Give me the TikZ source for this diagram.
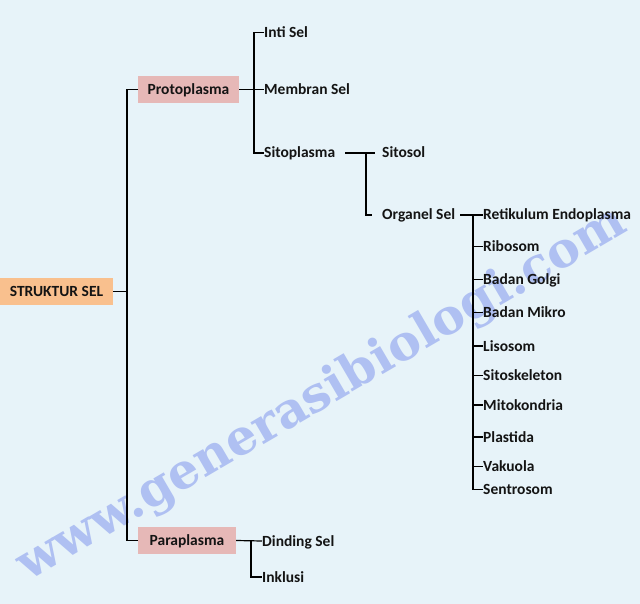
\documentclass[tikz,border=0pt]{standalone}
\usepackage{fontspec}
\setmainfont{Carlito}
\newfontfamily\wmfont{DejaVu Serif}
\definecolor{bg}{HTML}{E7F3F9}
\definecolor{wm}{HTML}{AFC0F2}
\definecolor{rootfill}{HTML}{F9C08E}
\definecolor{subfill}{HTML}{E6B8B7}
\begin{document}
\begin{tikzpicture}[x=1pt,y=-1pt,
  lbl/.style={anchor=west, inner sep=0pt, text height=10pt, text depth=0pt, font=\fontsize{15.5}{18}\selectfont\bfseries, text=black!92},
  box/.style={fill=#1, draw=none, minimum height=27pt, inner sep=0pt, text height=10pt, text depth=0pt, font=\fontsize{15.5}{18}\selectfont\bfseries, text=black!92},
  conn/.style={draw=black, line width=1.2pt}]
\fill[bg] (0,0) rectangle (640,604);
\useasboundingbox (0,0) rectangle (640,604);
% watermark
\node[rotate=30.3, text=wm, inner sep=0pt, font=\wmfont\bfseries\fontsize{49}{54}\selectfont] (wmark) at (322,395) {www.generasibiologi.com};
% boxes
\node[box=rootfill, minimum width=113pt] (root) at (56.5,291.5) {STRUKTUR SEL};
\node[box=subfill, minimum width=101pt] (proto) at (188.5,89.5) {Protoplasma};
\node[box=subfill, minimum width=98pt] (para) at (187,540.5) {Paraplasma};
% labels
\node[lbl] (inti) at (264,32.5) {Inti Sel};
\node[lbl] (membran) at (264,89.5) {Membran Sel};
\node[lbl] (sito) at (264,153) {Sitoplasma};
\node[lbl] (sitosol) at (382,153) {Sitosol};
\node[lbl] (organel) at (382,215) {Organel Sel};
\node[lbl] (ret) at (483,215) {Retikulum Endoplasma};
\node[lbl] (ribo) at (483,246.5) {Ribosom};
\node[lbl] (golgi) at (483,279.5) {Badan Golgi};
\node[lbl] (mikro) at (483,312.5) {Badan Mikro};
\node[lbl] (liso) at (483,346) {Lisosom};
\node[lbl] (sitosk) at (483,375.5) {Sitoskeleton};
\node[lbl] (mito) at (483,405) {Mitokondria};
\node[lbl] (plast) at (483,437) {Plastida};
\node[lbl] (vaku) at (483,466.5) {Vakuola};
\node[lbl] (sentro) at (483,489.5) {Sentrosom};
\node[lbl] (dinding) at (262,541) {Dinding Sel};
\node[lbl] (inklusi) at (262,577) {Inklusi};
% junctions
\coordinate (j1) at (127,291.5);
\coordinate (j2) at (254,89.5);
\coordinate (j3) at (366,153);
\coordinate (j4) at (473,215);
\coordinate (j5) at (251,541);
% connectors
\draw[conn] (root.east) -- (j1);
\draw[conn] (proto.west) -| (j1) |- (para.west);
\draw[conn] (proto.east) -- (membran.west);
\draw[conn] (inti.west) -| (j2) |- (sito.west);
\draw[conn] ([xshift=10pt]sito.east) -- ([xshift=-7pt]sitosol.west);
\draw[conn] (j3) |- ([xshift=-10pt]organel.west);
\draw[conn] ([xshift=5pt]organel.east) -- (ret.west);
\draw[conn] (j4) |- (sentro.west);
\foreach \n in {ribo,golgi,mikro,liso,sitosk,mito,plast,vaku}
  \draw[conn] (\n.west -| j4) -- (\n.west);
\draw[conn] (para.east) -- (dinding.west);
\draw[conn] (j5) |- (inklusi.west);
\end{tikzpicture}
\end{document}
